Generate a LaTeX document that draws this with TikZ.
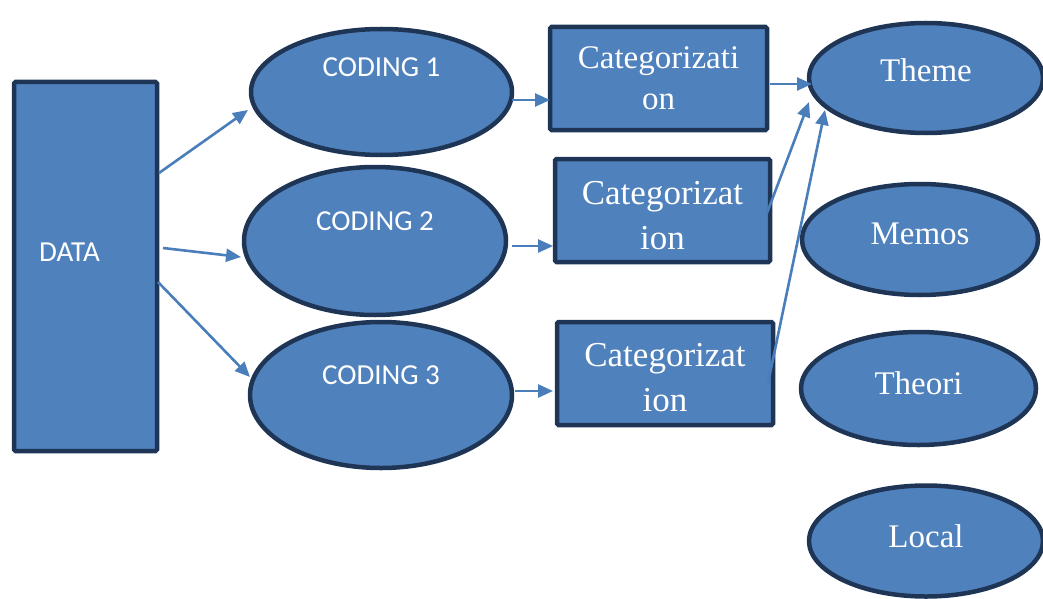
\documentclass[tikz,border=0pt]{standalone}
\usepackage{fontspec}
\setmainfont{Liberation Serif}
\newfontfamily\calib{Carlito}
\usetikzlibrary{shapes.geometric,arrows.meta,calc}
\definecolor{fillb}{HTML}{4F81BD}
\definecolor{edgeb}{HTML}{1F3556}
\definecolor{arrb}{HTML}{4A7EBB}
\begin{document}
\begin{tikzpicture}[x=1pt,y=-1pt,
  shapebase/.style={fill=fillb,draw=edgeb,line width=4.5pt,text=white,inner sep=0pt},
  ell/.style={shapebase,ellipse},
  box/.style={shapebase,rectangle,rounded corners=1.5pt,align=center},
  arr/.style={draw=arrb,line width=2.6pt,-{Triangle[length=15pt,width=13pt]}},
  sansf/.style={text=white,font=\calib\fontsize{29}{34}\selectfont},
  serf/.style={text=white,font=\fontsize{33}{41}\selectfont},
  serfb/.style={text=white,font=\fontsize{35}{45}\selectfont}]
\useasboundingbox (0,0) rectangle (1043,599);
% left column
\node[box,minimum width=143pt,minimum height=369pt,
  label={[sansf,xshift=-16pt,yshift=14.5pt]center:DATA}] (data) at (85.5,266.5) {};
% codings
\node[ell,minimum width=261pt,minimum height=126pt,
  label={[sansf,yshift=25pt]center:CODING 1}] (c1) at (381.5,92) {};
\node[ell,minimum width=262pt,minimum height=148pt,
  label={[sansf,yshift=20pt]center:CODING 2}] (c2) at (375,241) {};
\node[ell,minimum width=262pt,minimum height=146pt,
  label={[sansf,yshift=20pt]center:CODING 3}] (c3) at (381,395) {};
% categorizations
\node[box,serf,minimum width=217pt,minimum height=103pt] (cat1) at (658.5,78.5) {Categorizati\\on};
\node[box,serfb,minimum width=215pt,minimum height=103pt] (cat2) at (662.5,210.5) {\rule{0pt}{33pt}Categorizat\\ion};
\node[box,serfb,minimum width=216pt,minimum height=103pt] (cat3) at (665,373.5) {\rule{0pt}{32pt}Categorizat\\ion};
% right column
\node[ell,minimum width=234pt,minimum height=110pt,
  label={[serf,yshift=8pt]center:Theme}] (theme) at (926,78) {};
\node[ell,minimum width=236pt,minimum height=111pt,
  label={[serf,yshift=6pt]center:Memos}] (memos) at (920,239.5) {};
\node[ell,minimum width=235pt,minimum height=113pt,
  label={[serf,yshift=5pt]center:Theori}] (theori) at (918.5,388.5) {};
\node[ell,minimum width=234pt,minimum height=111pt,
  label={[serf,yshift=5pt]center:Local}] (local) at (926,541) {};
% connectors
\draw[arr] ($(data.center)+(73.5,-93.5)$) -- ($(c1.center)+(-133.5,18)$);
\draw[arr] ($(data.center)+(77.5,-18.5)$) -- ($(c2.center)+(-134,16)$);
\draw[arr] ($(data.center)+(72.5,15.5)$) -- ($(c3.center)+(-131,-18)$);
\draw[arr] ($(c1.center)+(130.5,8)$) -- ($(cat1.center)+(-108.5,21.5)$);
\draw[arr] ($(c2.center)+(137,5)$) -- ($(cat2.center)+(-109.5,35.5)$);
\draw[arr] ($(c3.center)+(134,-4)$) -- ($(cat3.center)+(-112,17.5)$);
\draw[arr] ($(cat1.center)+(111.5,5.5)$) -- ($(theme.center)+(-114,6)$);
\draw[arr] ($(cat2.center)+(104.5,2.5)$) -- ($(theme.center)+(-117,24)$);
\draw[arr] ($(cat3.center)+(103,9.5)$) -- ($(theme.center)+(-101,32)$);
\end{tikzpicture}
\end{document}
